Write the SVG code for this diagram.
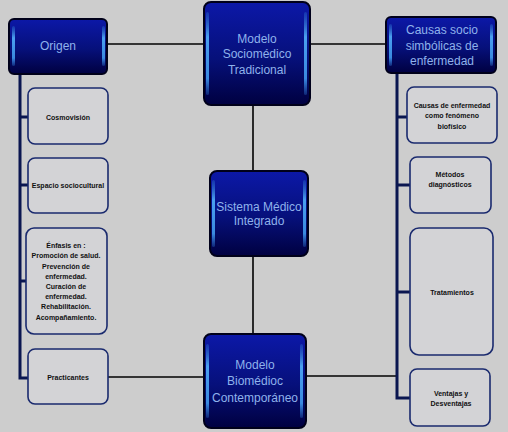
<svg xmlns="http://www.w3.org/2000/svg" width="508" height="432" viewBox="0 0 508 432">
<defs>
<linearGradient id="dg" x1="0" y1="0" x2="0" y2="1">
<stop offset="0" stop-color="#0c18a8"/>
<stop offset="0.55" stop-color="#06107a"/>
<stop offset="1" stop-color="#000040"/>
</linearGradient>
<linearGradient id="hl" x1="0" y1="0" x2="0" y2="1">
<stop offset="0" stop-color="#2f7ad8" stop-opacity="0.3"/>
<stop offset="0.3" stop-color="#4aa0f0"/>
<stop offset="0.8" stop-color="#3a8ae0"/>
<stop offset="1" stop-color="#2f7ad8" stop-opacity="0.3"/>
</linearGradient>
<style>
.dk{fill:url(#dg);stroke:#00001a;stroke-width:2}
.hl{fill:url(#hl)}
.dt{font-family:"Liberation Sans","DejaVu Sans",sans-serif;font-size:12px;fill:#8fb2ec;text-anchor:middle}
.lt{fill:#d3d3d6;stroke:#1a2a6e;stroke-width:1.6}
.st{font-family:"Liberation Sans",Arial,sans-serif;font-size:7px;font-weight:bold;fill:#111;text-anchor:middle}
.cn{stroke:#000;stroke-width:1.6;fill:none}
.tr{stroke:#0a1650;stroke-width:3;fill:none}
</style>
</defs>
<rect width="508" height="432" fill="#cdcdcd"/>
<g id="connectors">
<line class="cn" x1="107" y1="44" x2="204" y2="44"/>
<line class="cn" x1="310" y1="44" x2="386" y2="44"/>
<line class="cn" x1="253" y1="105" x2="253" y2="171"/>
<line class="cn" x1="253" y1="256" x2="253" y2="334"/>
<line class="cn" x1="108" y1="377" x2="204" y2="377"/>
<line class="cn" x1="306" y1="376" x2="397" y2="376"/>
<polyline class="tr" points="20,74 20,378 28,378"/>
<line class="tr" x1="20" y1="117" x2="28" y2="117"/>
<line class="tr" x1="20" y1="185" x2="28" y2="185"/>
<line class="tr" x1="20" y1="281" x2="26" y2="281"/>
<polyline class="tr" points="397,73 397,398 410,398"/>
<line class="tr" x1="397" y1="117" x2="407" y2="117"/>
<line class="tr" x1="397" y1="185" x2="410" y2="185"/>
<line class="tr" x1="397" y1="292" x2="410" y2="292"/>
</g>
<g id="origen">
<rect class="dk" x="9" y="19" width="98" height="55" rx="5"/>
<rect class="hl" x="12" y="26" width="3" height="40" rx="1.5"/>
<rect class="hl" x="102" y="26" width="3" height="40" rx="1.5"/>
<text class="dt" x="58" y="50">Origen</text>
</g>
<g id="modelo-sociomedico">
<rect class="dk" x="204" y="2" width="106" height="103" rx="7"/>
<rect class="hl" x="206" y="12" width="3" height="83" rx="1.5"/>
<rect class="hl" x="304" y="12" width="3" height="83" rx="1.5"/>
<text class="dt" x="257" y="43">Modelo</text>
<text class="dt" x="257" y="58">Sociomédico</text>
<text class="dt" x="257" y="74">Tradicional</text>
</g>
<g id="causas-socio">
<rect class="dk" x="386" y="17" width="110" height="56" rx="5"/>
<rect class="hl" x="389" y="24" width="3" height="42" rx="1.5"/>
<rect class="hl" x="490" y="24" width="3" height="42" rx="1.5"/>
<text class="dt" x="442" y="34">Causas socio</text>
<text class="dt" x="442" y="50">simbólicas de</text>
<text class="dt" x="442" y="65">enfermedad</text>
</g>
<g id="sistema">
<rect class="dk" x="210" y="171" width="98" height="85" rx="7"/>
<rect class="hl" x="212" y="180" width="3" height="67" rx="1.5"/>
<rect class="hl" x="303" y="180" width="3" height="67" rx="1.5"/>
<text class="dt" x="259" y="211">Sistema Médico</text>
<text class="dt" x="259" y="225">Integrado</text>
</g>
<g id="modelo-biomedico">
<rect class="dk" x="204" y="334" width="102" height="94" rx="7"/>
<rect class="hl" x="206" y="344" width="3" height="74" rx="1.5"/>
<rect class="hl" x="300" y="344" width="3" height="74" rx="1.5"/>
<text class="dt" x="255" y="369">Modelo</text>
<text class="dt" x="255" y="385">Biomédioc</text>
<text class="dt" x="255" y="402">Contemporáneo</text>
</g>
<g id="cosmovision">
<rect class="lt" x="28" y="88" width="80" height="56" rx="7"/>
<text class="st" x="68" y="120">Cosmovisión</text>
</g>
<g id="espacio">
<rect class="lt" x="28" y="158" width="80" height="55" rx="7"/>
<text class="st" x="68" y="188">Espacio sociocultural</text>
</g>
<g id="enfasis">
<rect class="lt" x="26" y="228" width="81" height="106" rx="8"/>
<text class="st" x="66" y="248">Énfasis en :</text>
<text class="st" x="66" y="258">Promoción de salud.</text>
<text class="st" x="66" y="269">Prevención de</text>
<text class="st" x="66" y="279">enfermedad.</text>
<text class="st" x="66" y="289">Curación de</text>
<text class="st" x="66" y="299">enfermedad.</text>
<text class="st" x="66" y="309">Rehabilitación.</text>
<text class="st" x="66" y="320">Acompañamiento.</text>
</g>
<g id="practicantes">
<rect class="lt" x="28" y="349" width="80" height="55" rx="7"/>
<text class="st" x="68" y="380">Practicantes</text>
</g>
<g id="causas-biofisico">
<rect class="lt" x="407" y="87" width="90" height="56" rx="7"/>
<text class="st" x="452" y="108">Causas de enfermedad</text>
<text class="st" x="452" y="118">como fenómeno</text>
<text class="st" x="452" y="129">biofísico</text>
</g>
<g id="metodos">
<rect class="lt" x="410" y="157" width="81" height="56" rx="7"/>
<text class="st" x="450" y="177">Métodos</text>
<text class="st" x="450" y="187">diagnósticos</text>
</g>
<g id="tratamientos">
<rect class="lt" x="410" y="228" width="83" height="127" rx="9"/>
<text class="st" x="452" y="295">Tratamientos</text>
</g>
<g id="ventajas">
<rect class="lt" x="410" y="369" width="80" height="57" rx="7"/>
<text class="st" x="451" y="396">Ventajas y</text>
<text class="st" x="451" y="406">Desventajas</text>
</g>
</svg>
